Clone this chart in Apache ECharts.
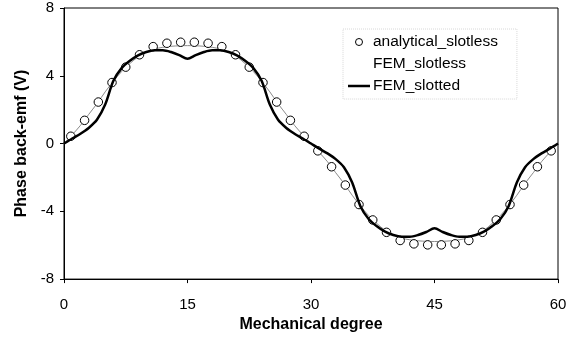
<!DOCTYPE html>
<html>
<head>
<meta charset="utf-8">
<script src="https://cdn.jsdelivr.net/npm/echarts@6/dist/echarts.min.js"></script>
<style>
html, body { margin: 0; padding: 0; background: #fff; }
#emf { width: 582px; height: 338px; }
</style>
</head>
<body>
<div id="emf"></div>
<script>
// FEM results, one sample per mechanical degree (0..60)
var fem_deg = [0,1,2,3,4,5,6,7,8,9,10,11,12,13,14,15,16,17,18,19,20,
    21,22,23,24,25,26,27,28,29,30,31,32,33,34,35,36,37,38,39,40,
    41,42,43,44,45,46,47,48,49,50,51,52,53,54,55,56,57,58,59,60];
var fem_slotless = [0,0.52,1.07,1.72,2.35,3.05,3.68,4.25,4.72,5.12,5.4,
    5.58,5.68,5.74,5.77,5.78,5.77,5.74,5.68,5.58,5.4,
    5.12,4.72,4.25,3.68,3.05,2.35,1.72,1.07,0.52,0,
    -0.52,-1.07,-1.72,-2.35,-3.05,-3.68,-4.25,-4.72,-5.12,-5.4,
    -5.58,-5.68,-5.74,-5.77,-5.78,-5.77,-5.74,-5.68,-5.58,-5.4,
    -5.12,-4.72,-4.25,-3.68,-3.05,-2.35,-1.72,-1.07,-0.52,0];
var fem_slotted = [0,0.3,0.58,0.92,1.4,2.3,3.7,4.45,4.88,5.2,5.4,
    5.5,5.5,5.4,5.22,5.0,5.22,5.4,5.5,5.5,5.4,
    5.2,4.88,4.45,3.7,2.3,1.4,0.92,0.58,0.3,0,
    -0.3,-0.58,-0.92,-1.4,-2.3,-3.7,-4.45,-4.88,-5.2,-5.4,
    -5.5,-5.5,-5.4,-5.22,-5.0,-5.22,-5.4,-5.5,-5.5,-5.4,
    -5.2,-4.88,-4.45,-3.7,-2.3,-1.4,-0.92,-0.58,-0.3,0];

// analytical model, circles
var ana_deg = [0.83,2.5,4.17,5.83,7.5,9.17,10.83,12.5,14.17,15.83,17.5,19.17,
    20.83,22.5,24.17,25.83,27.5,29.17,30.83,32.5,34.17,35.83,37.5,39.17,
    40.83,42.5,44.17,45.83,47.5,49.17,50.83,52.5,54.17,55.83,57.5,59.17];
var ana_slotless = [0.43,1.37,2.45,3.6,4.51,5.24,5.72,5.92,5.98,5.98,5.92,5.72,
    5.24,4.51,3.6,2.45,1.37,0.43,-0.43,-1.37,-2.45,-3.6,-4.51,-5.24,
    -5.72,-5.92,-5.98,-5.98,-5.92,-5.72,-5.24,-4.51,-3.6,-2.45,-1.37,-0.43];

var x_ticks = [0, 15, 30, 45, 60];
var y_ticks = [-8, -4, 0, 4, 8];

var FONT = 'Liberation Sans, Arial, sans-serif';

function pairs(xs, ys) {
    var out = [];
    for (var i = 0; i < xs.length; i++) {
        out.push([xs[i], ys[i]]);
    }
    return out;
}

var chart = echarts.init(document.getElementById('emf'));

var option = {
    animation: false,
    backgroundColor: '#fff',
    textStyle: { fontFamily: FONT, color: '#000' },
    grid: {
        left: 64, right: 24, top: 8, bottom: 57,
        show: true,
        borderColor: '#000',
        borderWidth: 1
    },
    legend: {
        orient: 'vertical',
        left: 343,
        top: 29,
        padding: [5, 19, 5, 5],
        itemWidth: 22,
        itemHeight: 7,
        itemGap: 6,
        borderColor: '#d8d8d8',
        borderWidth: 1,
        borderType: 'dotted',
        textStyle: { fontFamily: FONT, fontSize: 15.5, color: '#000', padding: [0, 0, 0, -2] },
        data: [
            { name: 'analytical_slotless', icon: 'circle',
              itemStyle: { color: '#fff', borderColor: '#000', borderWidth: 1 } },
            { name: 'FEM_slotless', icon: 'rect',
              itemStyle: { color: 'rgba(0,0,0,0)', opacity: 0 }, lineStyle: { opacity: 0 } },
            { name: 'FEM_slotted', icon: 'path://M0,0 L22,0 L22,2.5 L0,2.5 Z',
              itemStyle: { color: '#000', borderWidth: 0 } }
        ]
    },
    xAxis: {
        type: 'value',
        min: 0, max: 60, interval: 15,
        name: 'Mechanical degree',
        nameLocation: 'middle',
        nameGap: 36,
        nameTextStyle: { fontFamily: FONT, fontSize: 16, fontWeight: 'bold', color: '#000' },
        axisLine: { onZero: false, lineStyle: { color: '#000', width: 1 } },
        axisTick: { inside: false, length: 4, lineStyle: { color: '#000' } },
        axisLabel: {
            margin: 18, fontSize: 15, color: '#000', fontFamily: FONT,
            formatter: function (v) { return x_ticks.indexOf(v) >= 0 ? String(v) : ''; }
        },
        splitLine: { show: false }
    },
    yAxis: {
        type: 'value',
        min: -8, max: 8, interval: 4,
        name: 'Phase back-emf (V)',
        nameLocation: 'middle',
        nameRotate: 90,
        nameGap: 34,
        nameTextStyle: { fontFamily: FONT, fontSize: 16, fontWeight: 'bold', color: '#000' },
        axisLine: { lineStyle: { color: '#000', width: 1 } },
        axisTick: { inside: false, length: 4, lineStyle: { color: '#000' } },
        axisLabel: {
            margin: 10, fontSize: 15, color: '#000', fontFamily: FONT,
            formatter: function (v) { return y_ticks.indexOf(v) >= 0 ? String(v) : ''; }
        },
        splitLine: { show: false }
    },
    series: [
        {
            name: 'FEM_slotless',
            type: 'line',
            data: pairs(fem_deg, fem_slotless),
            smooth: 0.3,
            symbol: 'none',
            lineStyle: { color: '#8a8a8a', width: 1 },
            z: 2
        },
        {
            name: 'analytical_slotless',
            type: 'scatter',
            data: pairs(ana_deg, ana_slotless),
            symbol: 'circle',
            symbolSize: 8.5,
            itemStyle: { color: '#fff', borderColor: '#000', borderWidth: 1, opacity: 1 },
            z: 3
        },
        {
            name: 'FEM_slotted',
            type: 'line',
            data: pairs(fem_deg, fem_slotted),
            smooth: 0.3,
            symbol: 'none',
            lineStyle: { color: '#000', width: 2.5 },
            z: 4
        }
    ]
};

chart.setOption(option);
</script>
</body>
</html>
